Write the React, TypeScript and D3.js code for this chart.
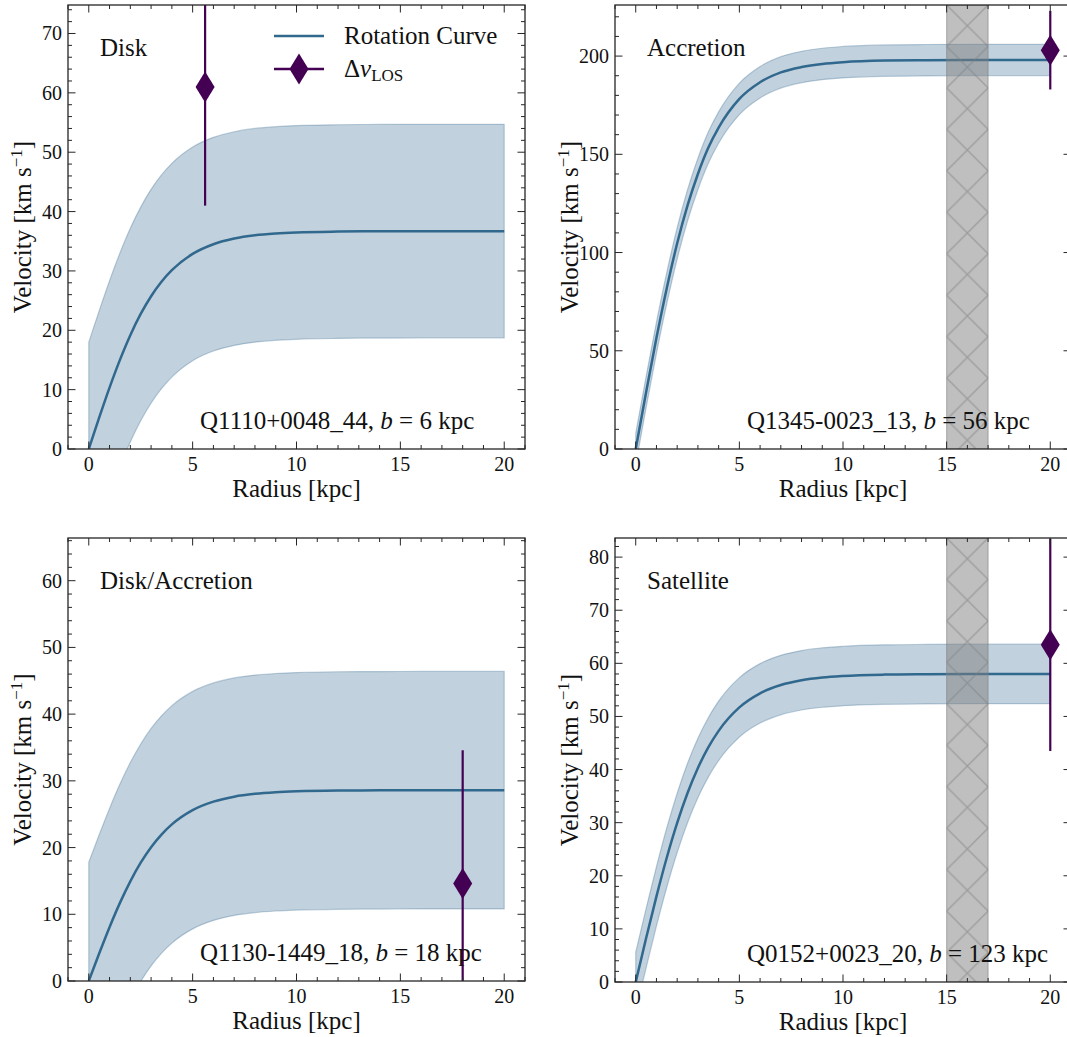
import React from 'react';
import * as d3 from 'd3';

// ---------- data ----------
const radius = [0, 0.5, 1, 1.5, 2, 2.5, 3, 3.5, 4, 5, 6, 7, 8, 9, 10, 12, 14, 16, 18, 20];

const centerDisk = [0, 5.28, 10.35, 15.02, 19.18, 22.75, 25.74, 28.17, 30.12, 32.87, 34.5, 35.45, 36.0, 36.3, 36.48, 36.63, 36.68, 36.7, 36.7, 36.7];
const upperDisk = [18.0, 23.28, 28.35, 33.02, 37.18, 40.75, 43.74, 46.17, 48.12, 50.87, 52.5, 53.45, 54.0, 54.3, 54.48, 54.63, 54.68, 54.7, 54.7, 54.7];
const lowerDisk = [-18.0, -12.72, -7.65, -2.98, 1.18, 4.75, 7.74, 10.17, 12.12, 14.87, 16.5, 17.45, 18.0, 18.3, 18.48, 18.63, 18.68, 18.7, 18.7, 18.7];

const centerAccretion = [0, 28.9, 56.6, 82.0, 104.7, 124.0, 140.0, 153.3, 163.6, 178.2, 186.7, 191.7, 194.4, 196.0, 196.9, 197.7, 197.9, 198.0, 198.0, 198.0];
const upperAccretion = [8, 36.9, 64.6, 90.0, 112.7, 132.0, 148.0, 161.3, 171.6, 186.2, 194.7, 199.7, 202.4, 204.0, 204.9, 205.7, 205.9, 206.0, 206.0, 206.0];
const lowerAccretion = [-8, 20.9, 48.6, 74.0, 96.7, 116.0, 132.0, 145.3, 155.6, 170.2, 178.7, 183.7, 186.4, 188.0, 188.9, 189.7, 189.9, 190.0, 190.0, 190.0];

const centerDiskAcc = [0, 4.12, 8.07, 11.71, 14.94, 17.73, 20.06, 21.95, 23.47, 25.61, 26.88, 27.63, 28.05, 28.29, 28.43, 28.55, 28.58, 28.6, 28.6, 28.6];
const upperDiskAcc = [17.8, 21.92, 25.87, 29.51, 32.74, 35.53, 37.86, 39.75, 41.27, 43.41, 44.68, 45.43, 45.85, 46.09, 46.23, 46.35, 46.38, 46.4, 46.4, 46.4];
const lowerDiskAcc = [-17.8, -13.68, -9.73, -6.09, -2.86, -0.07, 2.26, 4.15, 5.67, 7.81, 9.08, 9.83, 10.25, 10.49, 10.63, 10.75, 10.78, 10.8, 10.8, 10.8];

const centerSatellite = [0, 8.23, 16.13, 23.44, 29.95, 35.58, 40.3, 44.17, 47.29, 51.7, 54.35, 55.91, 56.81, 57.33, 57.62, 57.88, 57.96, 58.0, 58.0, 58.0];
const upperSatellite = [5.6, 13.83, 21.73, 29.04, 35.55, 41.18, 45.9, 49.77, 52.89, 57.3, 59.95, 61.51, 62.41, 62.93, 63.22, 63.48, 63.56, 63.6, 63.6, 63.6];
const lowerSatellite = [-5.6, 2.63, 10.53, 17.84, 24.35, 29.98, 34.7, 38.57, 41.69, 46.1, 48.75, 50.31, 51.21, 51.73, 52.02, 52.28, 52.36, 52.4, 52.4, 52.4];

const centers = [centerDisk, centerAccretion, centerDiskAcc, centerSatellite];
const uppers = [upperDisk, upperAccretion, upperDiskAcc, upperSatellite];
const lowers = [lowerDisk, lowerAccretion, lowerDiskAcc, lowerSatellite];

const classLabels = ['Disk', 'Accretion', 'Disk/Accretion', 'Satellite'];
const sightlines = ['Q1110+0048_44', 'Q1345-0023_13', 'Q1130-1449_18', 'Q0152+0023_20'];
const impactParams = [6, 56, 18, 123];

const losRadius = [5.6, 20, 18, 20];
const losVelocity = [61, 203, 14.6, 63.5];
const losError = [20, 20, 20, 20];

const yMaxes = [74.8, 226, 66.4, 83.6];
const yMajorSteps = [10, 50, 10, 10];
const xMajorTicks = [0, 5, 10, 15, 20];
const excludedRegions: (number[] | null)[] = [null, [15, 17], null, [15, 17]];

// ---------- styling ----------
const W = 1067;
const H = 1037;
const FONT = "'Liberation Serif', monospace";
const CURVE = '#31688e';
const LOS = '#440154';
const AXIS = '#262626';
const INK = '#111';

const boxes = [
  { left: 68, right: 525, top: 5, bottom: 449 },
  { left: 615, right: 1071, top: 5, bottom: 449 },
  { left: 68, right: 525, top: 538, bottom: 981 },
  { left: 615, right: 1071, top: 538, bottom: 982 },
];

function diamond(cx: number, cy: number) {
  const hw = 9.5;
  const hh = 15.5;
  return `M${cx},${cy - hh}L${cx + hw},${cy}L${cx},${cy + hh}L${cx - hw},${cy}Z`;
}

function T(props: any) {
  const { size, children, style, ...rest } = props;
  return (
    <text {...rest} fill={INK} style={{ fontFamily: FONT, fontSize: `${size}px`, ...(style || {}) }}>
      {children}
    </text>
  );
}

function Panel({ i }: { i: number }) {
  const b = boxes[i];
  const x = d3.scaleLinear().domain([-1, 21]).range([b.left, b.right]);
  const y = d3.scaleLinear().domain([0, yMaxes[i]]).range([b.bottom, b.top]);
  const pts = radius.map((r, k) => ({ r, c: centers[i][k], u: uppers[i][k], l: lowers[i][k] }));
  const area = d3
    .area<any>()
    .x((d) => x(d.r))
    .y0((d) => y(d.l))
    .y1((d) => y(d.u))
    .curve(d3.curveMonotoneX);
  const line = d3
    .line<any>()
    .x((d) => x(d.r))
    .y((d) => y(d.c))
    .curve(d3.curveMonotoneX);

  const xMinor = d3.range(-1, 21.001, 1).filter((v) => !xMajorTicks.includes(v));
  const step = yMajorSteps[i];
  const yMajor = d3.range(0, yMaxes[i] + 1e-9, step);
  const yMinor = d3
    .range(0, yMaxes[i] + 1e-9, step / 5)
    .filter((v) => Math.abs(v / step - Math.round(v / step)) > 1e-6);

  const clipId = `clip${i}`;
  const hatchId = `hatch${i}`;
  const ex = excludedRegions[i];
  const exX0 = ex ? x(ex[0]) : 0;
  const exW = ex ? x(ex[1]) - x(ex[0]) : 0;
  const MAJ = 7.5;
  const MIN = 4;
  const cxLos = x(losRadius[i]);
  const cyLos = y(losVelocity[i]);

  return (
    <g>
      <defs>
        <clipPath id={clipId}>
          <rect x={b.left} y={b.top} width={b.right - b.left} height={b.bottom - b.top} />
        </clipPath>
        {ex && (
          <pattern id={hatchId} patternUnits="userSpaceOnUse" x={exX0} y={b.top} width={exW} height={exW}>
            <path
              d={`M-1,-1L${exW + 1},${exW + 1}M${exW + 1},-1L-1,${exW + 1}`}
              stroke="#808080"
              strokeOpacity={0.55}
              strokeWidth={1.3}
              fill="none"
            />
          </pattern>
        )}
      </defs>
      <g clipPath={`url(#${clipId})`}>
        <path
          d={area(pts) || ''}
          fill={CURVE}
          fillOpacity={0.3}
          stroke={CURVE}
          strokeOpacity={0.3}
          strokeWidth={1.2}
        />
        <path d={line(pts) || ''} fill="none" stroke={CURVE} strokeWidth={2.5} />
        <line
          x1={cxLos}
          x2={cxLos}
          y1={y(losVelocity[i] - losError[i])}
          y2={y(losVelocity[i] + losError[i])}
          stroke={LOS}
          strokeWidth={2.2}
        />
      </g>
      <path d={diamond(cxLos, cyLos)} fill={LOS} />
      {ex && (
        <g clipPath={`url(#${clipId})`}>
          <rect
            x={exX0}
            y={b.top}
            width={exW}
            height={b.bottom - b.top}
            fill="#808080"
            fillOpacity={0.5}
            stroke="#808080"
            strokeOpacity={0.5}
            strokeWidth={1.2}
          />
          <rect x={exX0} y={b.top} width={exW} height={b.bottom - b.top} fill={`url(#${hatchId})`} />
        </g>
      )}

      {/* ticks */}
      <g stroke={AXIS} strokeWidth={1}>
        {xMajorTicks.map((v) => (
          <g key={'xM' + v}>
            <line x1={x(v)} x2={x(v)} y1={b.bottom} y2={b.bottom - MAJ} />
            <line x1={x(v)} x2={x(v)} y1={b.top} y2={b.top + MAJ} />
          </g>
        ))}
        {xMinor.map((v) => (
          <g key={'xm' + v}>
            <line x1={x(v)} x2={x(v)} y1={b.bottom} y2={b.bottom - MIN} />
            <line x1={x(v)} x2={x(v)} y1={b.top} y2={b.top + MIN} />
          </g>
        ))}
        {yMajor.map((v) => (
          <g key={'yM' + v}>
            <line x1={b.left} x2={b.left + MAJ} y1={y(v)} y2={y(v)} />
            <line x1={b.right} x2={b.right - MAJ} y1={y(v)} y2={y(v)} />
          </g>
        ))}
        {yMinor.map((v) => (
          <g key={'ym' + v}>
            <line x1={b.left} x2={b.left + MIN} y1={y(v)} y2={y(v)} />
            <line x1={b.right} x2={b.right - MIN} y1={y(v)} y2={y(v)} />
          </g>
        ))}
      </g>
      <rect
        x={b.left}
        y={b.top}
        width={b.right - b.left}
        height={b.bottom - b.top}
        fill="none"
        stroke={AXIS}
        strokeWidth={1.3}
      />

      {/* tick labels */}
      {xMajorTicks.map((v) => (
        <T key={'xl' + v} size={20} x={x(v)} y={b.bottom + 22} textAnchor="middle">
          {v}
        </T>
      ))}
      {yMajor.map((v) => (
        <T key={'yl' + v} size={20} x={b.left - 6} y={y(v) + 7} textAnchor="end">
          {v}
        </T>
      ))}

      {/* axis labels */}
      <T size={25} x={(b.left + b.right) / 2} y={b.bottom + 48} textAnchor="middle">
        Radius [kpc]
      </T>
      <T
        size={25}
        transform={`translate(${b.left - 37},${(b.top + b.bottom) / 2}) rotate(-90)`}
        textAnchor="middle"
      >
        Velocity [km s
        <tspan dy={-9} style={{ fontSize: '17px' }}>
          −1
        </tspan>
        <tspan dy={9}>]</tspan>
      </T>

      {/* annotations */}
      <T size={25} x={b.left + 32} y={b.top + 51}>
        {classLabels[i]}
      </T>
      <T size={25} x={b.left + 132} y={b.bottom - 20}>
        {sightlines[i]},{' '}
        <tspan style={{ fontStyle: 'italic' }}>b</tspan> = {impactParams[i]} kpc
      </T>
    </g>
  );
}

function Legend() {
  return (
    <g>
      <line x1={274} x2={324} y1={36} y2={36} stroke={CURVE} strokeWidth={2.5} />
      <T size={25} x={344} y={44}>
        Rotation Curve
      </T>
      <line x1={274} x2={324} y1={69} y2={69} stroke={LOS} strokeWidth={2.5} />
      <path d={diamond(299, 69)} fill={LOS} />
      <T size={25} x={344} y={77}>
        Δ<tspan style={{ fontStyle: 'italic' }}>v</tspan>
        <tspan dy={4} style={{ fontSize: '17px' }}>
          LOS
        </tspan>
      </T>
    </g>
  );
}

export default function App() {
  return (
    <svg width={W} height={H} viewBox={`0 0 ${W} ${H}`} style={{ position: 'absolute', left: 0, top: 0 }}>
      <rect x={0} y={0} width={W} height={H} fill="#fff" />
      {[0, 1, 2, 3].map((i) => (
        <Panel key={i} i={i} />
      ))}
      <Legend />
    </svg>
  );
}
